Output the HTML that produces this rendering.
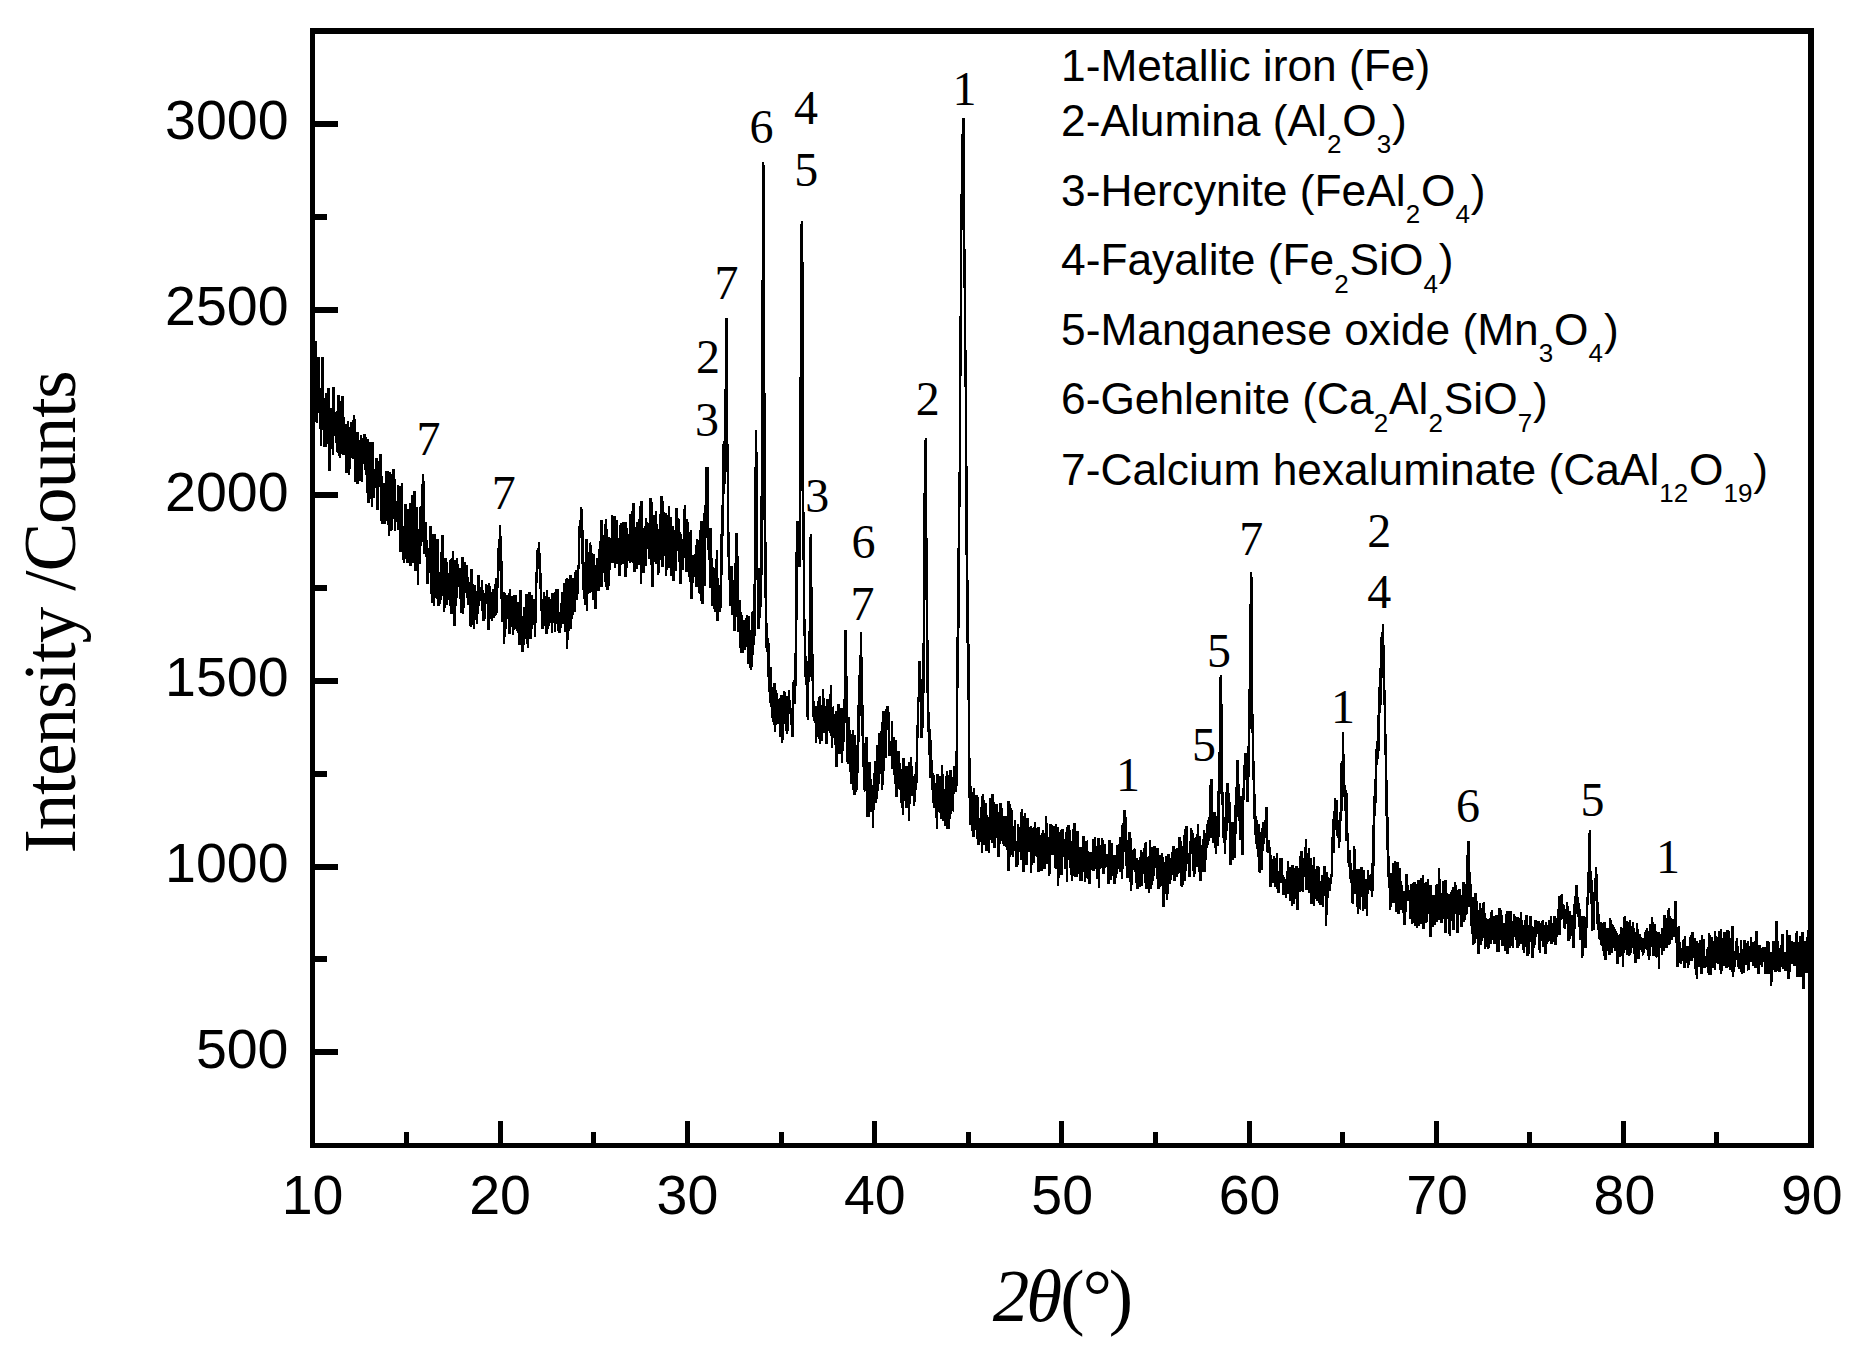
<!DOCTYPE html>
<html><head><meta charset="utf-8"><title>XRD pattern</title>
<style>
html,body{margin:0;padding:0;background:#fff;}
body{width:1856px;height:1364px;overflow:hidden;}
svg{display:block;}
.tk{font-family:"Liberation Sans",Arial,sans-serif;font-size:55.5px;fill:#000;}
.lg{font-family:"Liberation Sans",Arial,sans-serif;font-size:44.3px;fill:#000;}
.sb{font-size:26px;}
.pk{font-family:"Liberation Serif","Times New Roman",serif;font-size:48px;fill:#000;text-anchor:middle;}
.ax{font-family:"Liberation Serif","Times New Roman",serif;font-size:73px;fill:#000;}
</style></head><body>
<svg width="1856" height="1364" viewBox="0 0 1856 1364">
<rect x="0" y="0" width="1856" height="1364" fill="#fff"/>
<g shape-rendering="crispEdges"><polyline fill="none" stroke="#000" stroke-width="2.5" stroke-linejoin="miter" stroke-miterlimit="2" points="312.3,388.6 312.7,341.4 313.0,363.0 313.4,391.6 313.8,368.4 314.2,346.1 314.5,394.8 314.9,357.6 315.3,341.1 315.7,371.6 316.0,407.4 316.4,410.8 316.8,423.1 317.2,401.1 317.5,387.7 317.9,412.6 318.3,356.9 318.7,395.8 319.0,403.6 319.4,388.2 319.8,402.3 320.2,428.5 320.5,395.3 320.9,445.8 321.3,428.6 321.7,429.0 322.0,410.6 322.4,356.6 322.8,404.8 323.2,409.4 323.5,404.3 323.9,438.1 324.3,446.5 324.7,424.7 325.0,398.4 325.4,431.6 325.8,428.0 326.2,447.3 326.5,392.9 326.9,426.1 327.3,426.5 327.7,394.6 328.0,444.2 328.4,388.2 328.8,402.9 329.2,413.9 329.5,470.7 329.9,430.9 330.3,412.1 330.7,408.0 331.0,437.3 331.4,414.3 331.8,441.4 332.2,432.0 332.5,437.7 332.9,454.5 333.3,386.9 333.7,422.9 334.0,394.3 334.4,434.5 334.8,427.7 335.2,411.8 335.5,422.9 335.9,442.5 336.3,428.6 336.7,443.2 337.0,429.0 337.4,451.5 337.8,406.9 338.2,452.5 338.5,395.5 338.9,456.3 339.3,411.0 339.7,410.2 340.0,458.1 340.4,417.5 340.8,416.4 341.2,401.1 341.5,418.8 341.9,443.4 342.3,454.0 342.7,396.2 343.0,441.7 343.4,454.7 343.8,417.3 344.2,425.2 344.5,424.6 344.9,434.5 345.3,452.7 345.7,442.2 346.0,472.6 346.4,424.0 346.8,442.5 347.2,450.2 347.5,450.9 347.9,420.9 348.3,472.8 348.7,444.0 349.0,474.6 349.4,466.1 349.8,426.7 350.2,432.9 350.5,456.5 350.9,447.2 351.3,422.4 351.7,453.6 352.0,456.0 352.4,449.9 352.8,459.2 353.2,442.3 353.5,428.6 353.9,415.3 354.3,459.1 354.7,418.8 355.0,481.5 355.4,445.3 355.8,441.6 356.2,479.0 356.5,455.6 356.9,432.4 357.3,483.7 357.7,448.4 358.0,431.9 358.4,453.3 358.8,440.2 359.1,470.8 359.5,480.7 359.9,475.7 360.3,473.6 360.6,464.9 361.0,435.3 361.4,459.9 361.8,450.4 362.1,481.9 362.5,437.6 362.9,463.8 363.3,445.5 363.6,462.1 364.0,447.7 364.4,434.0 364.8,446.2 365.1,456.5 365.5,470.2 365.9,437.5 366.3,474.5 366.6,448.1 367.0,493.0 367.4,466.0 367.8,466.4 368.1,439.4 368.5,503.0 368.9,444.3 369.3,442.4 369.6,449.3 370.0,469.0 370.4,454.5 370.8,481.9 371.1,489.6 371.5,486.6 371.9,506.6 372.3,485.1 372.6,442.1 373.0,476.0 373.4,498.2 373.8,479.2 374.1,493.0 374.5,480.1 374.9,473.6 375.3,483.5 375.6,468.6 376.0,475.4 376.4,458.4 376.8,470.7 377.1,497.5 377.5,509.8 377.9,500.3 378.3,466.0 378.6,465.0 379.0,467.4 379.4,487.4 379.8,458.1 380.1,467.5 380.5,454.0 380.9,499.8 381.3,476.1 381.6,519.8 382.0,523.7 382.4,513.2 382.8,509.1 383.1,492.3 383.5,498.2 383.9,483.5 384.3,524.1 384.6,484.6 385.0,507.7 385.4,495.1 385.8,521.1 386.1,502.0 386.5,470.9 386.9,482.7 387.3,470.7 387.6,497.5 388.0,492.6 388.4,525.4 388.8,491.8 389.1,535.7 389.5,476.7 389.9,472.6 390.3,474.2 390.6,531.4 391.0,526.7 391.4,500.1 391.8,529.9 392.1,486.3 392.5,485.1 392.9,512.3 393.3,469.5 393.6,487.4 394.0,518.5 394.4,506.7 394.8,478.8 395.1,531.1 395.5,507.8 395.9,503.0 396.3,502.2 396.6,522.3 397.0,520.5 397.4,505.2 397.8,500.9 398.1,485.0 398.5,530.3 398.9,497.8 399.3,497.2 399.6,485.9 400.0,529.5 400.4,552.2 400.8,508.7 401.1,551.3 401.5,512.9 401.9,483.5 402.3,534.2 402.6,526.7 403.0,545.2 403.4,530.5 403.8,562.9 404.1,536.4 404.5,548.2 404.9,514.9 405.3,504.3 405.6,526.9 406.0,539.6 406.4,536.9 406.7,558.5 407.1,523.9 407.5,562.9 407.9,533.7 408.2,542.8 408.6,509.0 409.0,533.7 409.4,544.3 409.7,550.9 410.1,503.5 410.5,565.6 410.9,549.8 411.2,555.4 411.6,550.8 412.0,495.3 412.4,553.7 412.7,562.5 413.1,511.4 413.5,512.3 413.9,551.1 414.2,540.1 414.6,491.1 415.0,557.2 415.4,517.6 415.7,571.4 416.1,525.8 416.5,522.9 416.9,506.7 417.2,540.1 417.6,555.7 418.0,584.6 418.4,535.5 418.7,528.7 419.1,555.3 419.5,563.8 419.9,539.0 420.2,509.1 420.6,507.3 421.0,545.8 421.4,540.0 421.7,506.1 422.1,524.2 422.5,491.7 422.9,479.1 423.2,473.6 423.6,513.5 424.0,519.5 424.4,553.8 424.7,532.0 425.1,548.1 425.5,521.9 425.9,532.5 426.2,537.8 426.6,551.4 427.0,566.1 427.4,557.8 427.7,584.4 428.1,556.8 428.5,559.3 428.9,553.3 429.2,560.1 429.6,547.8 430.0,573.3 430.4,545.5 430.7,526.1 431.1,571.4 431.5,593.8 431.9,575.7 432.2,539.3 432.6,603.2 433.0,568.5 433.4,538.8 433.7,534.4 434.1,606.2 434.5,583.8 434.9,534.4 435.2,597.9 435.6,581.3 436.0,579.2 436.4,583.6 436.7,568.2 437.1,598.9 437.5,539.1 437.9,600.3 438.2,566.5 438.6,606.3 439.0,572.6 439.4,603.6 439.7,576.7 440.1,591.0 440.5,572.4 440.9,581.3 441.2,600.2 441.6,554.0 442.0,549.9 442.4,535.1 442.7,595.7 443.1,581.9 443.5,580.5 443.9,604.3 444.2,611.7 444.6,586.7 445.0,596.1 445.4,592.3 445.7,558.4 446.1,579.0 446.5,586.1 446.9,561.6 447.2,605.2 447.6,578.2 448.0,591.7 448.4,573.1 448.7,575.1 449.1,584.4 449.5,591.2 449.9,580.1 450.2,560.3 450.6,605.8 451.0,599.4 451.4,614.0 451.7,559.0 452.1,566.2 452.5,608.4 452.8,550.7 453.2,605.1 453.6,580.2 454.0,594.6 454.3,560.3 454.7,626.4 455.1,600.4 455.5,584.5 455.8,606.2 456.2,600.2 456.6,590.4 457.0,558.1 457.3,570.8 457.7,564.2 458.1,566.5 458.5,577.0 458.8,571.1 459.2,575.7 459.6,579.3 460.0,597.5 460.3,599.3 460.7,568.1 461.1,612.7 461.5,577.7 461.8,585.8 462.2,601.7 462.6,557.4 463.0,614.0 463.3,592.6 463.7,608.4 464.1,570.3 464.5,589.5 464.8,561.8 465.2,592.5 465.6,571.4 466.0,580.0 466.3,593.4 466.7,564.9 467.1,596.9 467.5,596.8 467.8,588.1 468.2,576.8 468.6,604.8 469.0,583.5 469.3,599.1 469.7,589.8 470.1,594.4 470.5,625.6 470.8,596.4 471.2,626.9 471.6,568.8 472.0,595.1 472.3,605.9 472.7,583.9 473.1,601.7 473.5,596.5 473.8,628.6 474.2,601.1 474.6,584.8 475.0,587.0 475.3,611.8 475.7,591.3 476.1,593.9 476.5,597.0 476.8,624.0 477.2,595.3 477.6,608.2 478.0,614.2 478.3,575.5 478.7,606.2 479.1,600.3 479.5,587.0 479.8,591.9 480.2,596.4 480.6,595.1 481.0,600.5 481.3,595.1 481.7,593.6 482.1,579.9 482.5,602.6 482.8,612.6 483.2,598.3 483.6,620.5 484.0,597.4 484.3,618.8 484.7,611.3 485.1,592.9 485.5,601.3 485.8,603.6 486.2,583.7 486.6,601.4 487.0,584.7 487.3,594.6 487.7,599.3 488.1,598.3 488.5,630.1 488.8,599.5 489.2,583.4 489.6,600.1 490.0,597.6 490.3,592.0 490.7,606.8 491.1,602.6 491.5,617.6 491.8,619.7 492.2,620.2 492.6,606.5 493.0,606.0 493.3,589.3 493.7,613.5 494.1,617.5 494.5,612.5 494.8,599.4 495.2,584.5 495.6,602.2 496.0,614.5 496.3,612.7 496.7,577.8 497.1,581.8 497.5,581.1 497.8,587.8 498.2,548.3 498.6,558.9 499.0,539.1 499.3,543.5 499.7,542.6 500.1,525.5 500.4,545.3 500.8,574.5 501.2,556.4 501.6,585.5 501.9,609.7 502.3,604.5 502.7,622.3 503.1,607.1 503.4,593.0 503.8,592.1 504.2,644.0 504.6,600.7 504.9,592.8 505.3,611.1 505.7,629.2 506.1,604.7 506.4,611.4 506.8,594.8 507.2,618.7 507.6,612.8 507.9,609.4 508.3,617.7 508.7,603.2 509.1,593.2 509.4,634.0 509.8,589.3 510.2,626.0 510.6,619.2 510.9,623.1 511.3,620.7 511.7,613.6 512.1,601.4 512.4,596.4 512.8,631.1 513.2,634.7 513.6,607.4 513.9,608.1 514.3,619.3 514.7,594.7 515.1,615.6 515.4,625.1 515.8,595.3 516.2,609.6 516.6,627.5 516.9,630.7 517.3,626.5 517.7,624.8 518.1,632.8 518.4,602.4 518.8,605.0 519.2,629.2 519.6,645.4 519.9,633.2 520.3,636.4 520.7,590.1 521.1,642.1 521.4,632.8 521.8,634.7 522.2,623.7 522.6,652.4 522.9,616.4 523.3,644.6 523.7,638.2 524.1,607.2 524.4,639.1 524.8,611.9 525.2,616.7 525.6,621.7 525.9,603.3 526.3,635.7 526.7,593.9 527.1,614.6 527.4,609.7 527.8,648.1 528.2,621.5 528.6,615.9 528.9,610.8 529.3,630.2 529.7,592.1 530.1,619.4 530.4,639.4 530.8,615.6 531.2,636.1 531.6,594.6 531.9,599.9 532.3,606.9 532.7,622.0 533.1,606.5 533.4,603.9 533.8,620.4 534.2,599.1 534.6,611.0 534.9,636.9 535.3,618.2 535.7,622.5 536.1,576.1 536.4,583.2 536.8,571.1 537.2,555.5 537.6,550.0 537.9,569.1 538.3,548.5 538.7,555.0 539.1,542.1 539.4,561.8 539.8,567.6 540.2,570.5 540.6,588.5 540.9,582.7 541.3,600.5 541.7,611.4 542.1,611.0 542.4,628.8 542.8,604.1 543.2,623.8 543.6,626.3 543.9,592.5 544.3,603.3 544.7,613.5 545.1,624.1 545.4,596.2 545.8,625.3 546.2,619.7 546.5,633.6 546.9,590.5 547.3,626.6 547.7,615.9 548.0,629.4 548.4,622.2 548.8,597.1 549.2,625.7 549.5,615.9 549.9,603.6 550.3,599.1 550.7,605.8 551.0,606.9 551.4,606.7 551.8,603.7 552.2,632.6 552.5,593.1 552.9,602.6 553.3,596.4 553.7,618.7 554.0,600.3 554.4,593.5 554.8,601.6 555.2,632.4 555.5,597.9 555.9,588.7 556.3,617.8 556.7,591.7 557.0,617.1 557.4,592.1 557.8,589.2 558.2,606.0 558.5,631.2 558.9,620.8 559.3,632.9 559.7,620.8 560.0,615.3 560.4,628.4 560.8,615.2 561.2,615.9 561.5,623.8 561.9,591.9 562.3,593.7 562.7,612.8 563.0,596.8 563.4,607.2 563.8,612.3 564.2,623.8 564.5,582.6 564.9,613.6 565.3,601.8 565.7,632.1 566.0,601.8 566.4,588.4 566.8,578.4 567.2,649.1 567.5,611.6 567.9,625.2 568.3,578.6 568.7,630.8 569.0,620.0 569.4,595.0 569.8,597.1 570.2,608.6 570.5,575.1 570.9,629.0 571.3,617.7 571.7,604.7 572.0,616.5 572.4,614.6 572.8,599.4 573.2,577.6 573.5,590.8 573.9,589.3 574.3,612.2 574.7,594.7 575.0,587.9 575.4,585.6 575.8,570.3 576.2,591.4 576.5,594.2 576.9,600.2 577.3,592.7 577.7,592.8 578.0,576.6 578.4,565.3 578.8,568.3 579.2,540.0 579.5,532.3 579.9,522.5 580.3,536.3 580.7,523.8 581.0,507.1 581.4,509.7 581.8,532.9 582.2,564.0 582.5,536.6 582.9,530.0 583.3,589.5 583.7,581.6 584.0,598.5 584.4,565.9 584.8,562.0 585.2,604.9 585.5,570.8 585.9,585.6 586.3,582.1 586.7,539.5 587.0,611.3 587.4,584.7 587.8,577.9 588.2,564.7 588.5,552.0 588.9,579.4 589.3,592.1 589.7,591.8 590.0,542.6 590.4,545.9 590.8,557.1 591.2,545.3 591.5,582.6 591.9,562.9 592.3,591.9 592.7,562.8 593.0,599.9 593.4,569.6 593.8,571.3 594.1,554.5 594.5,580.4 594.9,597.7 595.3,587.9 595.6,609.3 596.0,599.2 596.4,586.7 596.8,563.5 597.1,572.4 597.5,558.3 597.9,584.7 598.3,591.0 598.6,589.1 599.0,548.6 599.4,565.4 599.8,557.2 600.1,551.8 600.5,571.5 600.9,525.9 601.3,519.9 601.6,586.6 602.0,550.5 602.4,573.3 602.8,570.7 603.1,570.9 603.5,547.1 603.9,535.3 604.3,558.0 604.6,541.2 605.0,560.0 605.4,581.7 605.8,519.0 606.1,538.4 606.5,587.0 606.9,529.3 607.3,589.7 607.6,584.7 608.0,575.0 608.4,539.4 608.8,586.0 609.1,536.8 609.5,540.9 609.9,569.5 610.3,549.2 610.6,562.7 611.0,539.6 611.4,553.9 611.8,556.3 612.1,515.3 612.5,563.4 612.9,523.5 613.3,556.1 613.6,543.9 614.0,531.3 614.4,516.5 614.8,568.2 615.1,557.0 615.5,535.4 615.9,533.2 616.3,548.0 616.6,519.8 617.0,562.5 617.4,563.4 617.8,538.0 618.1,544.3 618.5,559.5 618.9,554.5 619.3,568.0 619.6,576.4 620.0,566.7 620.4,525.4 620.8,552.1 621.1,543.0 621.5,523.1 621.9,563.3 622.3,564.2 622.6,553.1 623.0,554.1 623.4,521.7 623.8,545.1 624.1,558.9 624.5,538.0 624.9,561.9 625.3,576.8 625.6,541.1 626.0,521.6 626.4,567.9 626.8,527.6 627.1,566.6 627.5,549.5 627.9,534.0 628.3,552.4 628.6,540.8 629.0,539.5 629.4,539.0 629.8,563.4 630.1,514.2 630.5,557.2 630.9,522.8 631.3,560.9 631.6,561.0 632.0,557.7 632.4,510.9 632.8,533.0 633.1,550.0 633.5,503.3 633.9,510.5 634.3,572.1 634.6,539.7 635.0,537.9 635.4,527.2 635.8,539.8 636.1,562.1 636.5,556.0 636.9,568.8 637.3,522.3 637.6,559.3 638.0,544.5 638.4,542.6 638.8,553.3 639.1,564.5 639.5,519.5 639.9,535.0 640.2,548.2 640.6,506.2 641.0,583.9 641.4,554.0 641.7,500.6 642.1,524.9 642.5,531.3 642.9,542.6 643.2,535.6 643.6,573.3 644.0,541.4 644.4,555.1 644.7,552.8 645.1,526.3 645.5,559.3 645.9,565.9 646.2,518.4 646.6,541.0 647.0,546.5 647.4,546.0 647.7,523.3 648.1,549.0 648.5,538.2 648.9,528.5 649.2,558.5 649.6,551.8 650.0,540.6 650.4,497.8 650.7,525.3 651.1,523.5 651.5,539.8 651.9,578.2 652.2,502.3 652.6,587.0 653.0,568.4 653.4,523.1 653.7,523.1 654.1,514.7 654.5,542.4 654.9,562.2 655.2,547.2 655.6,519.7 656.0,511.5 656.4,564.1 656.7,523.6 657.1,539.0 657.5,545.3 657.9,538.7 658.2,575.1 658.6,536.4 659.0,572.7 659.4,529.5 659.7,541.4 660.1,524.7 660.5,513.9 660.9,556.5 661.2,560.0 661.6,496.5 662.0,532.5 662.4,553.1 662.7,566.6 663.1,501.0 663.5,527.7 663.9,555.7 664.2,517.5 664.6,541.7 665.0,541.6 665.4,513.2 665.7,545.2 666.1,576.3 666.5,561.9 666.9,540.7 667.2,525.8 667.6,523.1 668.0,515.3 668.4,540.6 668.7,546.3 669.1,505.9 669.5,567.7 669.9,538.9 670.2,547.6 670.6,545.7 671.0,516.6 671.4,539.2 671.7,575.5 672.1,537.4 672.5,525.9 672.9,559.6 673.2,553.5 673.6,581.3 674.0,542.8 674.4,543.2 674.7,547.7 675.1,529.6 675.5,536.8 675.9,570.8 676.2,508.2 676.6,508.7 677.0,545.8 677.4,549.6 677.7,518.5 678.1,550.9 678.5,519.1 678.9,562.3 679.2,527.8 679.6,548.7 680.0,532.4 680.4,548.8 680.7,583.7 681.1,534.5 681.5,546.4 681.9,553.1 682.2,548.1 682.6,569.5 683.0,564.9 683.4,540.5 683.7,557.9 684.1,544.5 684.5,517.4 684.9,504.6 685.2,522.6 685.6,551.0 686.0,568.3 686.4,525.7 686.7,572.1 687.1,519.4 687.5,524.8 687.8,548.3 688.2,544.1 688.6,569.0 689.0,552.4 689.3,565.3 689.7,576.5 690.1,582.2 690.5,541.7 690.8,530.0 691.2,588.2 691.6,599.3 692.0,560.2 692.3,583.0 692.7,577.9 693.1,554.9 693.5,563.7 693.8,563.6 694.2,577.3 694.6,557.4 695.0,564.8 695.3,573.3 695.7,553.8 696.1,554.2 696.5,586.9 696.8,539.4 697.2,575.1 697.6,544.5 698.0,565.8 698.3,572.4 698.7,539.9 699.1,573.7 699.5,593.3 699.8,592.8 700.2,529.6 700.6,585.7 701.0,585.0 701.3,521.5 701.7,600.0 702.1,604.1 702.5,603.2 702.8,573.5 703.2,563.2 703.6,558.7 704.0,573.9 704.3,586.3 704.7,512.6 705.1,518.5 705.5,504.9 705.8,538.0 706.2,517.4 706.6,467.1 707.0,489.5 707.3,467.4 707.7,496.6 708.1,523.4 708.5,549.5 708.8,542.9 709.2,545.6 709.6,542.2 710.0,588.4 710.3,527.7 710.7,550.9 711.1,581.2 711.5,578.7 711.8,557.7 712.2,606.1 712.6,566.6 713.0,573.6 713.3,579.6 713.7,572.8 714.1,589.6 714.5,587.7 714.8,611.8 715.2,568.0 715.6,608.8 716.0,572.7 716.3,605.7 716.7,561.0 717.1,550.2 717.5,620.5 717.8,577.9 718.2,586.3 718.6,611.3 719.0,597.0 719.3,611.9 719.7,584.6 720.1,608.8 720.5,602.8 720.8,607.5 721.2,580.3 721.6,546.9 722.0,516.5 722.3,536.0 722.7,505.1 723.1,516.1 723.5,466.3 723.8,441.1 724.2,492.6 724.6,442.8 725.0,444.4 725.3,451.6 725.7,389.5 726.1,398.8 726.5,318.1 726.8,395.5 727.2,455.7 727.6,444.3 728.0,513.6 728.3,534.3 728.7,552.2 729.1,579.5 729.5,570.9 729.8,570.1 730.2,568.5 730.6,606.1 731.0,590.4 731.3,565.6 731.7,595.8 732.1,598.1 732.5,615.1 732.8,580.5 733.2,595.4 733.6,593.5 733.9,584.2 734.3,581.1 734.7,631.0 735.1,563.4 735.4,595.5 735.8,580.5 736.2,554.8 736.6,533.1 736.9,549.1 737.3,557.3 737.7,616.8 738.1,613.5 738.4,632.0 738.8,605.3 739.2,626.2 739.6,622.1 739.9,600.1 740.3,613.4 740.7,647.2 741.1,652.9 741.4,623.9 741.8,615.3 742.2,627.3 742.6,653.0 742.9,650.1 743.3,633.6 743.7,627.5 744.1,626.1 744.4,620.0 744.8,649.8 745.2,645.7 745.6,629.8 745.9,618.3 746.3,627.7 746.7,627.7 747.1,614.9 747.4,647.2 747.8,623.5 748.2,640.2 748.6,663.6 748.9,616.5 749.3,641.6 749.7,630.5 750.1,640.4 750.4,642.7 750.8,670.3 751.2,636.1 751.6,666.5 751.9,611.6 752.3,623.8 752.7,647.8 753.1,654.7 753.4,618.5 753.8,609.6 754.2,645.1 754.6,596.3 754.9,574.4 755.3,545.3 755.7,474.8 756.1,430.1 756.4,470.2 756.8,535.9 757.2,566.5 757.6,579.5 757.9,574.5 758.3,629.0 758.7,604.6 759.1,593.0 759.4,610.6 759.8,618.1 760.2,609.0 760.6,597.0 760.9,544.8 761.3,574.8 761.7,504.3 762.1,459.9 762.4,336.0 762.8,275.0 763.2,162.1 763.6,179.7 763.9,272.1 764.3,408.0 764.7,518.7 765.1,526.4 765.4,556.0 765.8,602.4 766.2,648.2 766.6,631.1 766.9,622.7 767.3,639.9 767.7,650.7 768.1,658.7 768.4,642.7 768.8,681.0 769.2,686.9 769.6,681.7 769.9,700.1 770.3,702.5 770.7,666.6 771.1,687.9 771.4,707.1 771.8,686.7 772.2,718.2 772.6,689.3 772.9,689.0 773.3,715.9 773.7,721.5 774.1,720.8 774.4,683.5 774.8,728.8 775.2,732.2 775.6,690.1 775.9,705.1 776.3,705.5 776.7,693.4 777.1,723.9 777.4,723.2 777.8,711.7 778.2,717.3 778.6,699.6 778.9,703.9 779.3,705.9 779.7,699.5 780.1,737.3 780.4,721.4 780.8,695.2 781.2,733.6 781.5,712.8 781.9,742.6 782.3,697.1 782.7,740.1 783.0,701.7 783.4,700.7 783.8,694.9 784.2,691.3 784.5,695.5 784.9,710.8 785.3,724.4 785.7,696.9 786.0,697.2 786.4,730.7 786.8,703.2 787.2,734.1 787.5,721.0 787.9,707.4 788.3,698.8 788.7,698.0 789.0,690.3 789.4,705.2 789.8,702.8 790.2,714.2 790.5,713.6 790.9,708.1 791.3,711.1 791.7,725.2 792.0,716.4 792.4,736.6 792.8,707.1 793.2,705.9 793.5,685.5 793.9,680.3 794.3,704.3 794.7,687.4 795.0,673.1 795.4,686.3 795.8,650.5 796.2,630.6 796.5,583.5 796.9,537.3 797.3,565.4 797.7,521.1 798.0,547.1 798.4,545.7 798.8,548.5 799.2,544.4 799.5,567.0 799.9,528.7 800.3,487.1 800.7,400.9 801.0,299.9 801.4,248.6 801.8,221.1 802.2,246.4 802.5,321.3 802.9,423.3 803.3,521.9 803.7,545.4 804.0,619.7 804.4,619.4 804.8,637.8 805.2,654.1 805.5,662.0 805.9,684.7 806.3,660.7 806.7,676.2 807.0,694.9 807.4,689.8 807.8,720.2 808.2,681.0 808.5,681.5 808.9,651.8 809.3,631.1 809.7,676.8 810.0,583.8 810.4,562.0 810.8,534.1 811.2,574.9 811.5,634.1 811.9,662.3 812.3,681.0 812.7,653.6 813.0,692.1 813.4,706.0 813.8,718.1 814.2,701.4 814.5,720.6 814.9,706.5 815.3,722.8 815.7,706.4 816.0,743.3 816.4,726.1 816.8,737.0 817.2,725.8 817.5,732.9 817.9,706.1 818.3,700.7 818.7,726.2 819.0,738.0 819.4,697.4 819.8,744.1 820.2,696.2 820.5,734.7 820.9,735.8 821.3,720.3 821.7,740.6 822.0,735.5 822.4,730.0 822.8,703.7 823.2,688.8 823.5,732.5 823.9,707.2 824.3,724.7 824.7,729.2 825.0,726.8 825.4,729.5 825.8,707.3 826.2,707.5 826.5,744.3 826.9,731.5 827.3,699.3 827.6,702.3 828.0,719.6 828.4,707.9 828.8,704.7 829.1,714.3 829.5,727.1 829.9,733.3 830.3,715.8 830.6,700.1 831.0,685.1 831.4,736.0 831.8,708.8 832.1,747.8 832.5,707.0 832.9,707.5 833.3,714.4 833.6,731.9 834.0,715.3 834.4,720.1 834.8,739.3 835.1,745.1 835.5,741.5 835.9,710.9 836.3,740.1 836.6,766.9 837.0,738.6 837.4,749.3 837.8,724.3 838.1,722.1 838.5,704.1 838.9,712.0 839.3,735.8 839.6,753.9 840.0,710.7 840.4,732.1 840.8,729.9 841.1,712.4 841.5,707.8 841.9,762.9 842.3,738.4 842.6,730.3 843.0,750.7 843.4,738.1 843.8,741.8 844.1,700.7 844.5,717.6 844.9,689.0 845.3,636.3 845.6,630.1 846.0,663.3 846.4,683.0 846.8,727.4 847.1,720.9 847.5,762.3 847.9,751.7 848.3,717.2 848.6,764.1 849.0,737.1 849.4,729.8 849.8,757.4 850.1,745.1 850.5,771.8 850.9,767.9 851.3,765.0 851.6,783.6 852.0,767.7 852.4,772.5 852.8,730.0 853.1,790.0 853.5,777.8 853.9,746.4 854.3,795.3 854.6,747.1 855.0,735.1 855.4,750.1 855.8,776.0 856.1,792.4 856.5,786.1 856.9,788.5 857.3,752.0 857.6,772.9 858.0,739.7 858.4,741.8 858.8,701.2 859.1,703.2 859.5,716.2 859.9,655.2 860.3,683.4 860.6,679.6 861.0,632.1 861.4,669.6 861.8,696.8 862.1,735.6 862.5,704.9 862.9,742.2 863.3,767.1 863.6,742.6 864.0,790.1 864.4,759.0 864.8,789.2 865.1,791.4 865.5,780.6 865.9,764.1 866.3,737.1 866.6,769.0 867.0,816.6 867.4,800.1 867.8,798.1 868.1,812.8 868.5,817.3 868.9,803.3 869.3,762.0 869.6,798.3 870.0,768.6 870.4,783.8 870.8,812.0 871.1,807.7 871.5,785.1 871.9,795.9 872.3,785.6 872.6,791.3 873.0,828.0 873.4,802.1 873.8,807.6 874.1,790.0 874.5,799.6 874.9,761.0 875.2,802.4 875.6,801.4 876.0,794.1 876.4,799.3 876.7,769.6 877.1,745.0 877.5,772.4 877.9,791.1 878.2,788.5 878.6,760.5 879.0,732.6 879.4,761.6 879.7,767.4 880.1,773.0 880.5,770.4 880.9,730.9 881.2,774.4 881.6,759.8 882.0,790.3 882.4,782.8 882.7,721.6 883.1,731.0 883.5,710.6 883.9,771.2 884.2,734.4 884.6,727.8 885.0,724.7 885.4,758.4 885.7,734.2 886.1,708.9 886.5,716.5 886.9,717.9 887.2,729.6 887.6,706.1 888.0,730.4 888.4,712.1 888.7,725.4 889.1,744.2 889.5,755.6 889.9,745.6 890.2,740.7 890.6,749.4 891.0,749.9 891.4,746.1 891.7,750.4 892.1,721.3 892.5,768.7 892.9,760.7 893.2,736.7 893.6,738.7 894.0,773.2 894.4,774.3 894.7,752.4 895.1,784.3 895.5,740.2 895.9,758.0 896.2,774.5 896.6,797.3 897.0,756.2 897.4,781.0 897.7,768.6 898.1,763.4 898.5,751.1 898.9,764.6 899.2,789.4 899.6,763.3 900.0,782.4 900.4,789.7 900.7,778.0 901.1,803.2 901.5,772.9 901.9,769.4 902.2,806.2 902.6,803.3 903.0,814.5 903.4,795.1 903.7,758.2 904.1,781.5 904.5,771.9 904.9,776.4 905.2,776.4 905.6,786.6 906.0,803.7 906.4,807.5 906.7,765.9 907.1,803.5 907.5,803.2 907.9,780.1 908.2,782.9 908.6,770.1 909.0,820.8 909.4,794.6 909.7,761.9 910.1,767.6 910.5,775.1 910.9,757.2 911.2,792.8 911.6,769.5 912.0,766.5 912.4,780.9 912.7,796.2 913.1,792.3 913.5,779.3 913.9,784.8 914.2,806.2 914.6,783.5 915.0,777.2 915.4,790.3 915.7,774.3 916.1,778.1 916.5,782.6 916.9,751.6 917.2,733.7 917.6,738.0 918.0,707.1 918.4,699.8 918.7,700.6 919.1,681.2 919.5,661.1 919.9,666.4 920.2,675.1 920.6,695.3 921.0,697.7 921.3,738.2 921.7,707.0 922.1,727.0 922.5,726.7 922.8,711.3 923.2,696.1 923.6,680.5 924.0,589.7 924.3,534.4 924.7,493.5 925.1,491.8 925.5,450.4 925.8,438.1 926.2,527.6 926.6,590.0 927.0,615.0 927.3,643.6 927.7,690.3 928.1,706.1 928.5,720.7 928.8,734.0 929.2,727.7 929.6,738.6 930.0,778.2 930.3,740.5 930.7,745.1 931.1,763.4 931.5,778.2 931.8,760.5 932.2,771.7 932.6,782.6 933.0,802.7 933.3,774.7 933.7,784.3 934.1,799.1 934.5,807.6 934.8,792.6 935.2,783.1 935.6,800.7 936.0,818.2 936.3,803.5 936.7,795.3 937.1,828.7 937.5,774.2 937.8,807.2 938.2,792.3 938.6,796.0 939.0,812.4 939.3,776.8 939.7,776.0 940.1,812.9 940.5,794.4 940.8,797.9 941.2,818.9 941.6,805.0 942.0,764.6 942.3,775.6 942.7,785.8 943.1,820.7 943.5,816.3 943.8,804.9 944.2,789.4 944.6,805.5 945.0,805.4 945.3,791.1 945.7,825.7 946.1,805.4 946.5,812.8 946.8,770.9 947.2,828.7 947.6,823.2 948.0,802.7 948.3,798.9 948.7,829.4 949.1,775.3 949.5,819.3 949.8,781.5 950.2,817.5 950.6,770.4 951.0,814.1 951.3,794.8 951.7,777.2 952.1,809.9 952.5,810.1 952.8,791.9 953.2,795.4 953.6,785.4 954.0,765.7 954.3,784.8 954.7,779.3 955.1,782.7 955.5,779.5 955.8,778.3 956.2,791.6 956.6,763.4 957.0,733.5 957.3,682.1 957.7,637.0 958.1,645.1 958.5,603.9 958.8,540.8 959.2,511.8 959.6,489.6 960.0,446.6 960.3,368.3 960.7,332.4 961.1,243.6 961.5,211.1 961.8,192.3 962.2,147.3 962.6,134.2 963.0,140.9 963.3,118.1 963.7,220.5 964.1,237.0 964.5,267.1 964.8,291.4 965.2,360.8 965.6,350.0 966.0,443.8 966.3,469.8 966.7,554.9 967.1,539.9 967.5,642.2 967.8,643.1 968.2,636.8 968.6,680.9 968.9,715.3 969.3,762.9 969.7,792.6 970.1,824.9 970.4,793.8 970.8,822.5 971.2,786.3 971.6,822.5 971.9,815.6 972.3,822.1 972.7,831.1 973.1,810.7 973.4,836.5 973.8,788.3 974.2,806.9 974.6,820.5 974.9,802.6 975.3,811.9 975.7,830.4 976.1,802.8 976.4,795.2 976.8,802.6 977.2,838.9 977.6,797.3 977.9,813.6 978.3,835.5 978.7,845.1 979.1,819.0 979.4,826.7 979.8,833.7 980.2,817.6 980.6,832.6 980.9,807.1 981.3,814.3 981.7,839.6 982.1,853.0 982.4,818.8 982.8,794.5 983.2,841.3 983.6,817.6 983.9,799.8 984.3,845.1 984.7,834.0 985.1,817.3 985.4,839.0 985.8,803.5 986.2,817.3 986.6,850.5 986.9,815.2 987.3,827.3 987.7,817.5 988.1,832.6 988.4,832.9 988.8,852.8 989.2,834.2 989.6,838.0 989.9,802.3 990.3,797.7 990.7,833.7 991.1,814.1 991.4,818.4 991.8,843.2 992.2,824.7 992.6,794.0 992.9,832.6 993.3,813.0 993.7,802.2 994.1,847.8 994.4,807.2 994.8,848.3 995.2,816.8 995.6,815.3 995.9,804.8 996.3,804.2 996.7,827.0 997.1,804.9 997.4,838.3 997.8,837.2 998.2,850.5 998.6,856.9 998.9,840.9 999.3,819.8 999.7,812.0 1000.1,843.8 1000.4,802.8 1000.8,839.1 1001.2,836.1 1001.6,807.8 1001.9,817.7 1002.3,817.7 1002.7,840.9 1003.1,837.9 1003.4,821.9 1003.8,846.4 1004.2,822.3 1004.6,830.9 1004.9,833.5 1005.3,816.4 1005.7,841.2 1006.1,821.3 1006.4,824.1 1006.8,849.6 1007.2,836.1 1007.6,843.8 1007.9,852.0 1008.3,871.3 1008.7,801.2 1009.1,827.8 1009.4,857.2 1009.8,804.3 1010.2,839.6 1010.6,844.4 1010.9,808.1 1011.3,834.3 1011.7,809.7 1012.1,817.2 1012.4,841.9 1012.8,857.1 1013.2,825.7 1013.6,838.7 1013.9,827.8 1014.3,833.0 1014.7,828.7 1015.0,820.5 1015.4,851.3 1015.8,842.7 1016.2,849.4 1016.5,867.2 1016.9,862.0 1017.3,858.6 1017.7,864.8 1018.0,824.3 1018.4,827.9 1018.8,828.6 1019.2,837.1 1019.5,843.5 1019.9,828.2 1020.3,851.8 1020.7,835.5 1021.0,860.4 1021.4,840.0 1021.8,808.6 1022.2,849.9 1022.5,831.4 1022.9,834.4 1023.3,872.0 1023.7,821.6 1024.0,844.3 1024.4,845.0 1024.8,813.5 1025.2,831.3 1025.5,837.7 1025.9,821.9 1026.3,864.9 1026.7,849.8 1027.0,829.1 1027.4,818.5 1027.8,832.2 1028.2,846.2 1028.5,848.8 1028.9,851.9 1029.3,832.9 1029.7,830.0 1030.0,828.4 1030.4,834.3 1030.8,826.0 1031.2,872.6 1031.5,842.8 1031.9,832.0 1032.3,828.7 1032.7,851.5 1033.0,829.3 1033.4,828.0 1033.8,862.7 1034.2,854.0 1034.5,835.4 1034.9,822.5 1035.3,853.1 1035.7,829.8 1036.0,854.8 1036.4,845.4 1036.8,857.2 1037.2,837.7 1037.5,828.7 1037.9,827.9 1038.3,871.9 1038.7,827.1 1039.0,844.5 1039.4,852.3 1039.8,835.1 1040.2,837.9 1040.5,849.6 1040.9,838.4 1041.3,870.9 1041.7,864.4 1042.0,832.6 1042.4,854.9 1042.8,842.6 1043.2,830.2 1043.5,860.2 1043.9,842.6 1044.3,838.8 1044.7,868.5 1045.0,859.4 1045.4,836.2 1045.8,832.7 1046.2,816.5 1046.5,846.3 1046.9,855.8 1047.3,851.4 1047.7,864.4 1048.0,837.1 1048.4,856.8 1048.8,855.5 1049.2,875.9 1049.5,866.2 1049.9,841.3 1050.3,823.8 1050.7,840.2 1051.0,837.3 1051.4,825.1 1051.8,845.9 1052.2,841.9 1052.5,855.3 1052.9,826.3 1053.3,850.1 1053.7,842.0 1054.0,833.1 1054.4,825.9 1054.8,856.8 1055.2,835.7 1055.5,868.2 1055.9,823.8 1056.3,868.9 1056.7,855.3 1057.0,864.0 1057.4,861.4 1057.8,827.1 1058.2,885.6 1058.5,852.1 1058.9,839.7 1059.3,843.0 1059.7,837.1 1060.0,853.4 1060.4,852.2 1060.8,830.5 1061.2,867.8 1061.5,874.4 1061.9,873.6 1062.3,855.1 1062.6,829.4 1063.0,841.8 1063.4,847.3 1063.8,844.7 1064.1,838.9 1064.5,843.3 1064.9,854.2 1065.3,868.9 1065.6,865.5 1066.0,835.0 1066.4,857.3 1066.8,829.2 1067.1,881.8 1067.5,827.5 1067.9,857.3 1068.3,824.7 1068.6,847.6 1069.0,856.6 1069.4,830.3 1069.8,845.4 1070.1,843.7 1070.5,867.8 1070.9,841.1 1071.3,853.8 1071.6,870.8 1072.0,880.5 1072.4,856.9 1072.8,863.4 1073.1,829.0 1073.5,868.1 1073.9,876.3 1074.3,823.0 1074.6,863.0 1075.0,853.6 1075.4,866.1 1075.8,877.4 1076.1,852.1 1076.5,838.3 1076.9,877.1 1077.3,847.0 1077.6,831.1 1078.0,842.6 1078.4,865.4 1078.8,874.0 1079.1,866.4 1079.5,873.8 1079.9,854.4 1080.3,880.5 1080.6,847.3 1081.0,849.9 1081.4,880.8 1081.8,872.7 1082.1,846.9 1082.5,852.3 1082.9,867.4 1083.3,836.0 1083.6,862.7 1084.0,853.6 1084.4,868.9 1084.8,872.0 1085.1,881.5 1085.5,873.0 1085.9,843.8 1086.3,867.6 1086.6,840.6 1087.0,844.9 1087.4,856.7 1087.8,869.6 1088.1,851.1 1088.5,879.4 1088.9,864.4 1089.3,863.0 1089.6,883.9 1090.0,879.3 1090.4,852.3 1090.8,854.8 1091.1,855.7 1091.5,870.3 1091.9,859.8 1092.3,851.9 1092.6,861.4 1093.0,839.3 1093.4,871.1 1093.8,842.7 1094.1,845.8 1094.5,865.1 1094.9,836.9 1095.3,855.1 1095.6,849.4 1096.0,868.5 1096.4,855.1 1096.8,846.0 1097.1,878.6 1097.5,854.0 1097.9,876.4 1098.3,851.6 1098.6,838.1 1099.0,887.7 1099.4,845.3 1099.8,850.8 1100.1,868.5 1100.5,856.9 1100.9,845.5 1101.3,867.6 1101.6,854.1 1102.0,838.0 1102.4,841.1 1102.8,865.0 1103.1,871.6 1103.5,873.9 1103.9,844.8 1104.3,854.2 1104.6,843.8 1105.0,867.1 1105.4,866.6 1105.8,855.3 1106.1,861.1 1106.5,859.3 1106.9,863.2 1107.3,861.1 1107.6,854.1 1108.0,870.9 1108.4,883.5 1108.7,881.4 1109.1,876.1 1109.5,839.9 1109.9,845.4 1110.2,843.2 1110.6,862.0 1111.0,880.1 1111.4,874.2 1111.7,842.6 1112.1,856.4 1112.5,859.2 1112.9,862.5 1113.2,869.0 1113.6,856.4 1114.0,856.4 1114.4,867.1 1114.7,883.8 1115.1,857.3 1115.5,873.0 1115.9,856.2 1116.2,878.4 1116.6,854.9 1117.0,874.3 1117.4,864.1 1117.7,844.6 1118.1,847.7 1118.5,848.1 1118.9,868.9 1119.2,847.3 1119.6,867.3 1120.0,842.0 1120.4,836.8 1120.7,872.2 1121.1,850.3 1121.5,859.1 1121.9,845.4 1122.2,879.3 1122.6,826.2 1123.0,823.0 1123.4,851.6 1123.7,848.6 1124.1,816.1 1124.5,810.1 1124.9,831.9 1125.2,814.4 1125.6,832.7 1126.0,823.7 1126.4,847.8 1126.7,864.0 1127.1,876.0 1127.5,878.3 1127.9,871.9 1128.2,860.1 1128.6,847.1 1129.0,853.3 1129.4,868.2 1129.7,831.9 1130.1,881.9 1130.5,838.6 1130.9,839.9 1131.2,890.9 1131.6,858.8 1132.0,862.5 1132.4,850.5 1132.7,853.5 1133.1,864.6 1133.5,860.4 1133.9,870.0 1134.2,848.6 1134.6,850.6 1135.0,872.4 1135.4,858.9 1135.7,864.3 1136.1,880.7 1136.5,883.1 1136.9,858.5 1137.2,872.0 1137.6,888.7 1138.0,881.0 1138.4,881.5 1138.7,859.7 1139.1,880.8 1139.5,872.0 1139.9,859.5 1140.2,887.1 1140.6,862.6 1141.0,849.9 1141.4,853.1 1141.7,858.6 1142.1,885.6 1142.5,854.7 1142.9,868.5 1143.2,874.1 1143.6,866.3 1144.0,848.3 1144.4,849.1 1144.7,872.0 1145.1,882.9 1145.5,845.4 1145.9,841.9 1146.2,869.8 1146.6,889.2 1147.0,870.2 1147.4,857.2 1147.7,883.2 1148.1,876.1 1148.5,874.8 1148.9,879.1 1149.2,892.7 1149.6,866.6 1150.0,840.2 1150.4,889.2 1150.7,850.0 1151.1,847.6 1151.5,878.4 1151.9,847.1 1152.2,884.9 1152.6,862.4 1153.0,865.9 1153.4,857.6 1153.7,876.3 1154.1,848.5 1154.5,846.1 1154.9,863.6 1155.2,862.1 1155.6,867.7 1156.0,855.3 1156.3,856.1 1156.7,853.7 1157.1,875.6 1157.5,848.0 1157.8,883.8 1158.2,867.4 1158.6,889.4 1159.0,884.8 1159.3,854.7 1159.7,887.2 1160.1,880.6 1160.5,885.8 1160.8,858.3 1161.2,886.3 1161.6,874.4 1162.0,853.3 1162.3,865.1 1162.7,860.2 1163.1,856.9 1163.5,906.8 1163.8,862.4 1164.2,869.1 1164.6,864.6 1165.0,867.7 1165.3,883.0 1165.7,894.1 1166.1,856.1 1166.5,867.6 1166.8,887.0 1167.2,899.8 1167.6,865.1 1168.0,884.2 1168.3,854.2 1168.7,864.7 1169.1,854.8 1169.5,884.2 1169.8,869.5 1170.2,884.1 1170.6,858.0 1171.0,870.2 1171.3,865.2 1171.7,858.4 1172.1,856.4 1172.5,869.3 1172.8,848.8 1173.2,875.3 1173.6,846.3 1174.0,874.7 1174.3,849.2 1174.7,881.1 1175.1,854.5 1175.5,873.7 1175.8,859.8 1176.2,861.4 1176.6,876.4 1177.0,875.1 1177.3,873.1 1177.7,848.0 1178.1,868.3 1178.5,863.9 1178.8,869.3 1179.2,873.3 1179.6,836.6 1180.0,850.6 1180.3,842.3 1180.7,850.0 1181.1,841.3 1181.5,875.7 1181.8,887.4 1182.2,862.2 1182.6,873.5 1183.0,885.4 1183.3,848.5 1183.7,846.2 1184.1,863.7 1184.5,881.1 1184.8,828.9 1185.2,852.3 1185.6,870.6 1186.0,829.7 1186.3,840.2 1186.7,826.1 1187.1,850.3 1187.5,861.4 1187.8,863.7 1188.2,852.7 1188.6,860.1 1189.0,859.4 1189.3,877.3 1189.7,873.3 1190.1,841.1 1190.5,854.2 1190.8,843.1 1191.2,827.6 1191.6,842.3 1192.0,847.5 1192.3,833.2 1192.7,848.7 1193.1,836.9 1193.5,839.3 1193.8,877.0 1194.2,870.4 1194.6,861.4 1195.0,873.6 1195.3,864.4 1195.7,847.1 1196.1,859.9 1196.5,855.5 1196.8,834.4 1197.2,865.8 1197.6,866.6 1198.0,824.5 1198.3,839.9 1198.7,850.8 1199.1,872.4 1199.5,855.1 1199.8,836.4 1200.2,838.7 1200.6,881.3 1201.0,847.0 1201.3,853.7 1201.7,844.9 1202.1,863.0 1202.4,862.1 1202.8,872.2 1203.2,851.8 1203.6,850.9 1203.9,830.3 1204.3,839.5 1204.7,849.8 1205.1,871.8 1205.4,850.8 1205.8,839.7 1206.2,832.9 1206.6,848.0 1206.9,839.2 1207.3,824.0 1207.7,826.2 1208.1,845.2 1208.4,820.1 1208.8,832.1 1209.2,840.7 1209.6,817.1 1209.9,824.4 1210.3,838.1 1210.7,784.7 1211.1,806.9 1211.4,779.1 1211.8,831.0 1212.2,816.6 1212.6,815.9 1212.9,813.7 1213.3,829.1 1213.7,843.3 1214.1,828.2 1214.4,812.3 1214.8,831.8 1215.2,822.5 1215.6,841.5 1215.9,853.6 1216.3,830.2 1216.7,832.2 1217.1,816.1 1217.4,833.0 1217.8,844.4 1218.2,844.5 1218.6,791.5 1218.9,796.8 1219.3,793.8 1219.7,752.3 1220.1,749.1 1220.4,695.5 1220.8,675.1 1221.2,699.5 1221.6,728.1 1221.9,778.8 1222.3,794.0 1222.7,798.1 1223.1,837.9 1223.4,817.1 1223.8,832.7 1224.2,837.4 1224.6,829.0 1224.9,854.4 1225.3,838.7 1225.7,830.6 1226.1,816.9 1226.4,792.2 1226.8,801.3 1227.2,831.4 1227.6,783.1 1227.9,801.4 1228.3,793.5 1228.7,811.0 1229.1,796.9 1229.4,807.2 1229.8,819.6 1230.2,813.8 1230.6,865.2 1230.9,833.9 1231.3,832.4 1231.7,833.4 1232.1,839.3 1232.4,860.4 1232.8,821.9 1233.2,829.1 1233.6,835.3 1233.9,845.0 1234.3,839.5 1234.7,858.1 1235.1,808.1 1235.4,805.3 1235.8,833.5 1236.2,802.3 1236.6,786.6 1236.9,817.1 1237.3,760.1 1237.7,781.2 1238.1,783.5 1238.4,810.5 1238.8,784.2 1239.2,820.6 1239.6,813.8 1239.9,822.9 1240.3,795.6 1240.7,839.6 1241.1,825.9 1241.4,828.2 1241.8,829.5 1242.2,855.4 1242.6,851.2 1242.9,818.2 1243.3,797.9 1243.7,793.0 1244.1,764.8 1244.4,775.9 1244.8,770.4 1245.2,764.0 1245.6,753.1 1245.9,753.9 1246.3,780.1 1246.7,768.1 1247.1,764.9 1247.4,801.6 1247.8,790.3 1248.2,780.7 1248.6,759.5 1248.9,735.4 1249.3,728.6 1249.7,698.0 1250.0,657.7 1250.4,638.1 1250.8,601.4 1251.2,572.1 1251.5,595.4 1251.9,666.0 1252.3,733.3 1252.7,713.9 1253.0,749.5 1253.4,767.1 1253.8,781.1 1254.2,806.4 1254.5,794.2 1254.9,834.0 1255.3,834.2 1255.7,816.5 1256.0,844.2 1256.4,820.1 1256.8,844.8 1257.2,830.8 1257.5,832.7 1257.9,857.2 1258.3,824.5 1258.7,844.2 1259.0,836.5 1259.4,871.3 1259.8,872.4 1260.2,850.9 1260.5,832.0 1260.9,841.6 1261.3,840.0 1261.7,869.8 1262.0,828.1 1262.4,838.8 1262.8,842.3 1263.2,851.3 1263.5,822.1 1263.9,842.1 1264.3,824.8 1264.7,826.7 1265.0,819.9 1265.4,820.7 1265.8,838.1 1266.2,835.0 1266.5,807.1 1266.9,849.1 1267.3,852.3 1267.7,847.5 1268.0,850.0 1268.4,852.7 1268.8,839.7 1269.2,847.1 1269.5,847.8 1269.9,850.8 1270.3,868.2 1270.7,887.2 1271.0,855.2 1271.4,877.1 1271.8,858.8 1272.2,871.6 1272.5,863.5 1272.9,876.4 1273.3,870.4 1273.7,882.9 1274.0,856.2 1274.4,863.8 1274.8,858.4 1275.2,886.7 1275.5,883.0 1275.9,862.0 1276.3,866.3 1276.7,860.3 1277.0,852.8 1277.4,879.7 1277.8,890.2 1278.2,871.7 1278.5,893.1 1278.9,872.6 1279.3,880.2 1279.7,875.4 1280.0,861.7 1280.4,858.2 1280.8,882.7 1281.2,870.5 1281.5,858.0 1281.9,873.7 1282.3,882.4 1282.7,874.7 1283.0,876.6 1283.4,895.4 1283.8,888.7 1284.2,876.7 1284.5,888.8 1284.9,891.1 1285.3,891.9 1285.7,893.0 1286.0,898.3 1286.4,891.8 1286.8,882.3 1287.2,893.3 1287.5,891.5 1287.9,861.5 1288.3,886.6 1288.7,869.2 1289.0,867.4 1289.4,869.0 1289.8,896.6 1290.2,900.6 1290.5,870.4 1290.9,895.2 1291.3,867.5 1291.7,896.5 1292.0,905.5 1292.4,865.1 1292.8,886.3 1293.2,887.6 1293.5,871.5 1293.9,903.7 1294.3,868.4 1294.7,877.0 1295.0,898.5 1295.4,892.7 1295.8,887.3 1296.1,880.8 1296.5,866.0 1296.9,901.1 1297.3,909.5 1297.6,897.2 1298.0,868.9 1298.4,869.4 1298.8,875.2 1299.1,875.4 1299.5,881.4 1299.9,891.6 1300.3,882.2 1300.6,856.5 1301.0,880.9 1301.4,851.1 1301.8,873.5 1302.1,877.7 1302.5,889.0 1302.9,892.2 1303.3,873.5 1303.6,870.4 1304.0,870.6 1304.4,857.8 1304.8,865.5 1305.1,876.8 1305.5,862.8 1305.9,839.1 1306.3,889.9 1306.6,855.8 1307.0,857.4 1307.4,856.0 1307.8,876.3 1308.1,871.3 1308.5,862.5 1308.9,848.5 1309.3,872.0 1309.6,892.8 1310.0,892.5 1310.4,857.6 1310.8,881.6 1311.1,904.1 1311.5,873.2 1311.9,870.6 1312.3,864.9 1312.6,884.1 1313.0,873.4 1313.4,885.9 1313.8,905.9 1314.1,856.9 1314.5,887.0 1314.9,896.7 1315.3,874.9 1315.6,869.4 1316.0,870.4 1316.4,886.4 1316.8,900.9 1317.1,871.7 1317.5,866.0 1317.9,879.3 1318.3,867.3 1318.6,875.8 1319.0,895.6 1319.4,887.5 1319.8,904.8 1320.1,880.7 1320.5,900.7 1320.9,903.3 1321.3,904.6 1321.6,895.8 1322.0,895.4 1322.4,874.7 1322.8,906.6 1323.1,901.6 1323.5,889.3 1323.9,874.5 1324.3,866.5 1324.6,876.4 1325.0,889.4 1325.4,876.0 1325.8,878.7 1326.1,925.6 1326.5,901.4 1326.9,872.2 1327.3,898.1 1327.6,877.2 1328.0,893.3 1328.4,888.8 1328.8,884.6 1329.1,886.4 1329.5,887.3 1329.9,891.3 1330.3,878.5 1330.6,881.8 1331.0,883.5 1331.4,873.8 1331.8,875.3 1332.1,843.4 1332.5,846.9 1332.9,832.8 1333.3,853.3 1333.6,820.9 1334.0,815.5 1334.4,829.7 1334.8,809.5 1335.1,798.1 1335.5,827.9 1335.9,807.5 1336.3,808.9 1336.6,800.4 1337.0,836.0 1337.4,827.2 1337.8,821.7 1338.1,835.4 1338.5,820.2 1338.9,847.8 1339.3,840.9 1339.6,840.2 1340.0,836.2 1340.4,813.7 1340.8,812.0 1341.1,781.5 1341.5,763.0 1341.9,811.0 1342.3,794.4 1342.6,782.6 1343.0,732.1 1343.4,773.7 1343.7,754.4 1344.1,782.6 1344.5,787.8 1344.9,801.6 1345.2,786.3 1345.6,811.3 1346.0,791.4 1346.4,794.3 1346.7,841.0 1347.1,836.7 1347.5,834.2 1347.9,833.2 1348.2,862.6 1348.6,861.0 1349.0,862.6 1349.4,850.5 1349.7,866.5 1350.1,852.2 1350.5,879.0 1350.9,873.6 1351.2,882.6 1351.6,875.5 1352.0,869.8 1352.4,888.2 1352.7,902.5 1353.1,903.9 1353.5,870.5 1353.9,890.9 1354.2,845.6 1354.6,864.0 1355.0,870.3 1355.4,894.2 1355.7,877.2 1356.1,875.3 1356.5,883.9 1356.9,868.8 1357.2,885.1 1357.6,901.6 1358.0,914.0 1358.4,902.7 1358.7,878.9 1359.1,868.7 1359.5,909.0 1359.9,908.5 1360.2,881.4 1360.6,890.7 1361.0,883.9 1361.4,871.4 1361.7,866.8 1362.1,874.8 1362.5,880.6 1362.9,905.2 1363.2,911.1 1363.6,880.4 1364.0,870.5 1364.4,909.0 1364.7,881.0 1365.1,894.5 1365.5,895.2 1365.9,899.9 1366.2,895.0 1366.6,879.2 1367.0,916.1 1367.4,883.1 1367.7,889.1 1368.1,869.9 1368.5,881.4 1368.9,881.2 1369.2,883.1 1369.6,875.1 1370.0,889.7 1370.4,886.0 1370.7,877.7 1371.1,891.0 1371.5,879.5 1371.9,870.7 1372.2,897.1 1372.6,862.8 1373.0,878.7 1373.4,859.9 1373.7,830.9 1374.1,800.2 1374.5,795.7 1374.9,815.8 1375.2,807.7 1375.6,780.0 1376.0,778.5 1376.4,757.9 1376.7,751.1 1377.1,741.7 1377.5,750.1 1377.9,735.6 1378.2,758.7 1378.6,715.9 1379.0,713.3 1379.4,712.0 1379.7,690.4 1380.1,668.0 1380.5,705.0 1380.9,683.6 1381.2,643.0 1381.6,640.2 1382.0,632.4 1382.4,642.5 1382.7,643.1 1383.1,624.1 1383.5,677.7 1383.9,661.1 1384.2,704.8 1384.6,689.6 1385.0,721.9 1385.4,739.2 1385.7,752.9 1386.1,764.1 1386.5,805.0 1386.9,821.0 1387.2,811.0 1387.6,843.7 1388.0,859.7 1388.4,856.1 1388.7,874.5 1389.1,888.3 1389.5,884.1 1389.8,873.9 1390.2,910.2 1390.6,890.8 1391.0,891.1 1391.3,873.1 1391.7,897.3 1392.1,878.0 1392.5,888.9 1392.8,884.9 1393.2,863.4 1393.6,903.3 1394.0,870.9 1394.3,882.2 1394.7,899.6 1395.1,861.0 1395.5,893.8 1395.8,879.1 1396.2,911.9 1396.6,894.4 1397.0,886.3 1397.3,861.7 1397.7,883.5 1398.1,889.7 1398.5,913.8 1398.8,900.3 1399.2,895.7 1399.6,868.5 1400.0,895.1 1400.3,904.9 1400.7,892.7 1401.1,881.4 1401.5,909.5 1401.8,885.3 1402.2,891.2 1402.6,896.4 1403.0,891.1 1403.3,908.9 1403.7,913.2 1404.1,895.9 1404.5,924.6 1404.8,910.0 1405.2,897.2 1405.6,890.6 1406.0,912.1 1406.3,899.6 1406.7,874.5 1407.1,880.9 1407.5,890.5 1407.8,900.7 1408.2,889.2 1408.6,895.5 1409.0,892.7 1409.3,899.3 1409.7,896.2 1410.1,919.4 1410.5,912.1 1410.8,911.3 1411.2,883.7 1411.6,889.3 1412.0,924.3 1412.3,884.1 1412.7,922.6 1413.1,883.5 1413.5,893.7 1413.8,905.2 1414.2,911.0 1414.6,882.2 1415.0,917.3 1415.3,926.2 1415.7,909.8 1416.1,894.9 1416.5,898.4 1416.8,897.3 1417.2,928.4 1417.6,883.8 1418.0,892.0 1418.3,925.8 1418.7,880.4 1419.1,899.3 1419.5,890.8 1419.8,898.0 1420.2,885.9 1420.6,924.2 1421.0,877.9 1421.3,904.8 1421.7,917.4 1422.1,905.7 1422.5,906.8 1422.8,874.7 1423.2,902.6 1423.6,928.6 1424.0,892.9 1424.3,892.9 1424.7,892.1 1425.1,922.8 1425.5,888.6 1425.8,882.3 1426.2,923.3 1426.6,909.3 1427.0,921.6 1427.3,895.3 1427.7,914.3 1428.1,879.3 1428.5,911.7 1428.8,897.8 1429.2,898.7 1429.6,905.2 1430.0,924.3 1430.3,884.9 1430.7,937.0 1431.1,917.3 1431.5,916.3 1431.8,907.9 1432.2,905.8 1432.6,926.5 1433.0,903.1 1433.3,895.3 1433.7,899.5 1434.1,894.8 1434.5,916.2 1434.8,925.3 1435.2,911.5 1435.6,901.5 1436.0,909.1 1436.3,885.2 1436.7,922.1 1437.1,888.9 1437.4,883.7 1437.8,886.9 1438.2,885.9 1438.6,919.5 1438.9,867.8 1439.3,898.2 1439.7,892.6 1440.1,879.0 1440.4,905.3 1440.8,902.2 1441.2,923.4 1441.6,899.8 1441.9,922.9 1442.3,915.7 1442.7,907.4 1443.1,881.5 1443.4,913.4 1443.8,894.6 1444.2,912.0 1444.6,918.9 1444.9,886.9 1445.3,932.8 1445.7,879.7 1446.1,916.7 1446.4,919.3 1446.8,907.5 1447.2,892.9 1447.6,911.6 1447.9,918.1 1448.3,894.2 1448.7,914.9 1449.1,910.5 1449.4,917.8 1449.8,935.5 1450.2,911.1 1450.6,904.5 1450.9,891.8 1451.3,917.1 1451.7,921.2 1452.1,899.9 1452.4,915.0 1452.8,886.7 1453.2,894.3 1453.6,930.0 1453.9,918.8 1454.3,889.8 1454.7,900.0 1455.1,882.3 1455.4,887.3 1455.8,889.7 1456.2,913.7 1456.6,896.6 1456.9,915.8 1457.3,932.8 1457.7,924.3 1458.1,908.4 1458.4,890.1 1458.8,907.6 1459.2,914.6 1459.6,888.9 1459.9,914.1 1460.3,912.3 1460.7,905.7 1461.1,915.7 1461.4,926.8 1461.8,900.5 1462.2,898.2 1462.6,894.7 1462.9,917.9 1463.3,882.0 1463.7,889.1 1464.1,922.0 1464.4,918.5 1464.8,903.8 1465.2,912.1 1465.6,914.9 1465.9,887.6 1466.3,913.8 1466.7,883.8 1467.1,894.1 1467.4,855.3 1467.8,863.6 1468.2,878.0 1468.6,841.1 1468.9,878.3 1469.3,871.8 1469.7,907.2 1470.1,890.2 1470.4,884.1 1470.8,890.6 1471.2,904.6 1471.6,926.4 1471.9,907.1 1472.3,897.2 1472.7,931.0 1473.1,944.8 1473.4,926.4 1473.8,898.6 1474.2,943.5 1474.6,937.3 1474.9,931.6 1475.3,893.2 1475.7,930.3 1476.1,909.6 1476.4,900.6 1476.8,924.1 1477.2,904.4 1477.6,939.3 1477.9,912.9 1478.3,931.2 1478.7,954.4 1479.1,915.9 1479.4,927.7 1479.8,926.7 1480.2,903.3 1480.6,930.9 1480.9,945.4 1481.3,923.1 1481.7,924.5 1482.1,940.9 1482.4,934.8 1482.8,921.6 1483.2,929.9 1483.5,905.6 1483.9,901.8 1484.3,914.2 1484.7,917.3 1485.0,948.5 1485.4,945.5 1485.8,917.8 1486.2,924.0 1486.5,946.1 1486.9,931.0 1487.3,920.4 1487.7,919.4 1488.0,947.8 1488.4,948.3 1488.8,926.7 1489.2,944.6 1489.5,942.1 1489.9,917.8 1490.3,937.0 1490.7,943.8 1491.0,918.1 1491.4,928.5 1491.8,909.9 1492.2,931.2 1492.5,917.3 1492.9,939.3 1493.3,916.5 1493.7,938.7 1494.0,944.4 1494.4,922.1 1494.8,943.4 1495.2,934.9 1495.5,925.1 1495.9,934.0 1496.3,943.9 1496.7,915.2 1497.0,942.3 1497.4,951.7 1497.8,914.6 1498.2,947.1 1498.5,952.1 1498.9,920.4 1499.3,939.8 1499.7,907.7 1500.0,922.4 1500.4,910.3 1500.8,934.3 1501.2,936.6 1501.5,914.8 1501.9,917.5 1502.3,945.6 1502.7,939.5 1503.0,936.3 1503.4,944.5 1503.8,936.4 1504.2,940.7 1504.5,923.4 1504.9,947.0 1505.3,951.1 1505.7,946.0 1506.0,936.7 1506.4,944.6 1506.8,911.1 1507.2,932.7 1507.5,954.1 1507.9,927.5 1508.3,911.5 1508.7,915.9 1509.0,918.6 1509.4,947.5 1509.8,936.2 1510.2,935.6 1510.5,913.8 1510.9,911.3 1511.3,937.8 1511.7,920.6 1512.0,932.4 1512.4,920.7 1512.8,948.3 1513.2,935.4 1513.5,937.3 1513.9,914.0 1514.3,933.1 1514.7,921.0 1515.0,916.0 1515.4,928.7 1515.8,936.0 1516.2,922.9 1516.5,939.9 1516.9,924.9 1517.3,947.9 1517.7,917.3 1518.0,918.1 1518.4,945.6 1518.8,918.3 1519.2,921.3 1519.5,943.8 1519.9,939.3 1520.3,928.7 1520.7,928.9 1521.0,911.7 1521.4,923.6 1521.8,938.5 1522.2,922.1 1522.5,933.2 1522.9,950.2 1523.3,947.1 1523.7,936.5 1524.0,953.4 1524.4,943.2 1524.8,927.3 1525.2,919.7 1525.5,935.1 1525.9,935.6 1526.3,915.1 1526.7,923.6 1527.0,916.3 1527.4,955.8 1527.8,925.2 1528.2,943.5 1528.5,953.6 1528.9,930.9 1529.3,933.2 1529.7,924.9 1530.0,938.8 1530.4,915.8 1530.8,917.6 1531.1,916.4 1531.5,940.5 1531.9,943.1 1532.3,958.0 1532.6,927.0 1533.0,942.2 1533.4,939.4 1533.8,931.9 1534.1,947.6 1534.5,937.1 1534.9,944.8 1535.3,919.9 1535.6,936.6 1536.0,921.9 1536.4,926.2 1536.8,933.8 1537.1,931.3 1537.5,931.7 1537.9,927.8 1538.3,921.2 1538.6,923.2 1539.0,947.6 1539.4,922.8 1539.8,953.1 1540.1,950.2 1540.5,926.6 1540.9,934.8 1541.3,938.7 1541.6,937.5 1542.0,930.2 1542.4,927.7 1542.8,919.8 1543.1,940.2 1543.5,946.6 1543.9,932.6 1544.3,942.0 1544.6,945.4 1545.0,929.8 1545.4,954.4 1545.8,922.4 1546.1,931.7 1546.5,931.1 1546.9,943.7 1547.3,932.8 1547.6,942.2 1548.0,924.7 1548.4,934.8 1548.8,933.6 1549.1,920.5 1549.5,929.4 1549.9,940.8 1550.3,939.7 1550.6,929.6 1551.0,916.3 1551.4,943.8 1551.8,930.2 1552.1,922.8 1552.5,930.5 1552.9,923.3 1553.3,942.1 1553.6,925.1 1554.0,936.3 1554.4,916.1 1554.8,924.2 1555.1,937.3 1555.5,945.4 1555.9,931.9 1556.3,936.6 1556.6,918.4 1557.0,920.9 1557.4,926.1 1557.8,927.1 1558.1,921.0 1558.5,933.2 1558.9,895.7 1559.3,934.9 1559.6,899.5 1560.0,908.4 1560.4,912.7 1560.8,897.5 1561.1,920.2 1561.5,896.5 1561.9,894.1 1562.3,906.1 1562.6,910.1 1563.0,914.6 1563.4,918.9 1563.8,905.2 1564.1,904.9 1564.5,926.4 1564.9,928.4 1565.3,920.3 1565.6,912.3 1566.0,922.1 1566.4,908.7 1566.8,924.0 1567.1,902.4 1567.5,910.9 1567.9,921.6 1568.3,911.5 1568.6,940.7 1569.0,918.7 1569.4,935.4 1569.8,911.0 1570.1,939.4 1570.5,919.5 1570.9,935.1 1571.3,929.0 1571.6,920.2 1572.0,915.8 1572.4,915.2 1572.8,937.9 1573.1,921.2 1573.5,948.0 1573.9,939.2 1574.3,928.3 1574.6,907.5 1575.0,898.4 1575.4,907.8 1575.8,894.8 1576.1,896.4 1576.5,885.1 1576.9,902.8 1577.2,893.3 1577.6,914.4 1578.0,900.7 1578.4,903.9 1578.7,915.3 1579.1,927.0 1579.5,917.2 1579.9,909.3 1580.2,930.5 1580.6,940.1 1581.0,921.9 1581.4,916.0 1581.7,925.3 1582.1,958.0 1582.5,953.7 1582.9,930.0 1583.2,922.7 1583.6,915.7 1584.0,924.9 1584.4,931.0 1584.7,927.3 1585.1,945.3 1585.5,947.7 1585.9,924.2 1586.2,929.8 1586.6,917.3 1587.0,919.5 1587.4,897.4 1587.7,905.0 1588.1,890.8 1588.5,871.9 1588.9,876.8 1589.2,832.9 1589.6,838.9 1590.0,830.1 1590.4,893.1 1590.7,875.4 1591.1,873.6 1591.5,888.9 1591.9,912.3 1592.2,930.9 1592.6,904.5 1593.0,927.1 1593.4,928.7 1593.7,930.0 1594.1,904.5 1594.5,895.3 1594.9,891.0 1595.2,878.2 1595.6,894.9 1596.0,867.1 1596.4,877.6 1596.7,884.8 1597.1,892.3 1597.5,917.1 1597.9,926.6 1598.2,911.4 1598.6,924.6 1599.0,937.4 1599.4,938.4 1599.7,928.6 1600.1,929.3 1600.5,931.3 1600.9,944.5 1601.2,921.7 1601.6,940.7 1602.0,945.6 1602.4,931.0 1602.7,922.9 1603.1,930.2 1603.5,942.2 1603.9,955.6 1604.2,929.4 1604.6,921.8 1605.0,950.5 1605.4,931.4 1605.7,960.3 1606.1,942.5 1606.5,932.3 1606.9,943.3 1607.2,930.3 1607.6,928.3 1608.0,951.4 1608.4,935.0 1608.7,942.1 1609.1,951.3 1609.5,955.3 1609.9,939.7 1610.2,918.2 1610.6,928.2 1611.0,953.0 1611.4,952.0 1611.7,924.4 1612.1,943.9 1612.5,931.3 1612.9,939.0 1613.2,925.0 1613.6,935.2 1614.0,934.2 1614.4,948.1 1614.7,928.6 1615.1,949.2 1615.5,950.4 1615.9,940.9 1616.2,931.3 1616.6,943.9 1617.0,948.2 1617.4,963.8 1617.7,935.6 1618.1,941.9 1618.5,943.2 1618.9,935.1 1619.2,935.3 1619.6,956.7 1620.0,944.6 1620.4,948.9 1620.7,950.3 1621.1,927.3 1621.5,953.4 1621.9,942.2 1622.2,933.2 1622.6,948.6 1623.0,967.4 1623.4,927.9 1623.7,952.5 1624.1,941.2 1624.5,918.5 1624.8,916.5 1625.2,925.0 1625.6,938.2 1626.0,924.3 1626.3,928.6 1626.7,949.6 1627.1,920.6 1627.5,954.5 1627.8,937.9 1628.2,953.3 1628.6,950.5 1629.0,956.2 1629.3,922.0 1629.7,955.2 1630.1,919.8 1630.5,946.5 1630.8,952.9 1631.2,945.6 1631.6,926.4 1632.0,948.3 1632.3,926.3 1632.7,948.3 1633.1,922.5 1633.5,935.4 1633.8,947.8 1634.2,939.1 1634.6,953.7 1635.0,942.7 1635.3,962.6 1635.7,932.5 1636.1,944.3 1636.5,946.3 1636.8,956.0 1637.2,923.0 1637.6,957.3 1638.0,932.7 1638.3,959.2 1638.7,945.0 1639.1,948.9 1639.5,933.6 1639.8,950.2 1640.2,945.6 1640.6,936.7 1641.0,948.0 1641.3,949.6 1641.7,937.7 1642.1,951.3 1642.5,938.4 1642.8,954.3 1643.2,954.1 1643.6,949.6 1644.0,946.8 1644.3,939.6 1644.7,943.5 1645.1,947.0 1645.5,947.9 1645.8,929.6 1646.2,949.0 1646.6,933.8 1647.0,927.6 1647.3,946.6 1647.7,950.3 1648.1,932.6 1648.5,952.9 1648.8,956.8 1649.2,960.3 1649.6,935.2 1650.0,924.5 1650.3,927.8 1650.7,932.6 1651.1,946.4 1651.5,927.9 1651.8,939.1 1652.2,917.2 1652.6,946.5 1653.0,934.5 1653.3,933.6 1653.7,955.8 1654.1,940.0 1654.5,952.4 1654.8,923.9 1655.2,930.1 1655.6,936.9 1656.0,957.2 1656.3,956.4 1656.7,944.3 1657.1,949.8 1657.5,951.2 1657.8,950.0 1658.2,933.3 1658.6,932.3 1659.0,969.0 1659.3,945.2 1659.7,945.6 1660.1,943.5 1660.5,942.7 1660.8,943.7 1661.2,934.3 1661.6,942.6 1662.0,954.6 1662.3,936.5 1662.7,928.4 1663.1,933.9 1663.5,951.3 1663.8,946.9 1664.2,946.0 1664.6,915.5 1665.0,934.9 1665.3,928.3 1665.7,940.0 1666.1,918.4 1666.5,947.5 1666.8,939.1 1667.2,928.9 1667.6,923.6 1668.0,910.3 1668.3,928.7 1668.7,944.9 1669.1,908.1 1669.5,927.7 1669.8,941.6 1670.2,943.4 1670.6,918.1 1670.9,924.4 1671.3,934.1 1671.7,939.6 1672.1,936.4 1672.4,919.5 1672.8,936.6 1673.2,932.8 1673.6,929.9 1673.9,924.8 1674.3,927.4 1674.7,936.9 1675.1,918.8 1675.4,901.1 1675.8,903.4 1676.2,938.1 1676.6,943.1 1676.9,940.2 1677.3,934.3 1677.7,966.5 1678.1,948.7 1678.4,946.8 1678.8,925.7 1679.2,963.0 1679.6,962.1 1679.9,941.7 1680.3,950.7 1680.7,951.9 1681.1,963.9 1681.4,955.1 1681.8,961.2 1682.2,958.6 1682.6,948.2 1682.9,958.1 1683.3,941.4 1683.7,941.3 1684.1,947.5 1684.4,968.4 1684.8,936.1 1685.2,958.0 1685.6,963.1 1685.9,951.8 1686.3,951.0 1686.7,954.0 1687.1,955.8 1687.4,946.3 1687.8,950.9 1688.2,967.7 1688.6,952.5 1688.9,959.8 1689.3,960.7 1689.7,948.7 1690.1,947.3 1690.4,951.4 1690.8,935.0 1691.2,939.5 1691.6,948.9 1691.9,960.5 1692.3,932.4 1692.7,958.4 1693.1,938.9 1693.4,958.0 1693.8,954.5 1694.2,938.0 1694.6,946.1 1694.9,938.3 1695.3,951.3 1695.7,969.2 1696.1,946.5 1696.4,941.0 1696.8,979.3 1697.2,950.6 1697.6,943.4 1697.9,951.5 1698.3,965.6 1698.7,966.4 1699.1,953.9 1699.4,964.4 1699.8,951.9 1700.2,939.7 1700.6,957.8 1700.9,945.5 1701.3,974.0 1701.7,961.6 1702.1,935.1 1702.4,963.5 1702.8,945.1 1703.2,950.0 1703.6,939.5 1703.9,953.0 1704.3,959.2 1704.7,967.7 1705.1,955.8 1705.4,967.0 1705.8,961.6 1706.2,956.4 1706.6,958.8 1706.9,963.9 1707.3,948.6 1707.7,954.1 1708.1,958.8 1708.4,947.5 1708.8,974.7 1709.2,933.5 1709.6,953.1 1709.9,935.3 1710.3,974.5 1710.7,973.7 1711.1,963.4 1711.4,937.5 1711.8,944.0 1712.2,943.8 1712.6,941.1 1712.9,968.1 1713.3,962.0 1713.7,951.9 1714.1,953.9 1714.4,947.9 1714.8,970.3 1715.2,931.1 1715.6,960.2 1715.9,950.6 1716.3,941.6 1716.7,962.9 1717.1,937.5 1717.4,946.7 1717.8,950.5 1718.2,963.9 1718.5,954.4 1718.9,931.1 1719.3,955.0 1719.7,957.0 1720.0,943.6 1720.4,939.4 1720.8,974.1 1721.2,929.0 1721.5,971.2 1721.9,948.1 1722.3,954.5 1722.7,965.6 1723.0,953.6 1723.4,947.6 1723.8,957.9 1724.2,945.5 1724.5,931.6 1724.9,965.9 1725.3,956.0 1725.7,953.0 1726.0,955.5 1726.4,968.0 1726.8,953.7 1727.2,949.4 1727.5,930.0 1727.9,932.2 1728.3,938.1 1728.7,949.1 1729.0,930.6 1729.4,941.2 1729.8,969.6 1730.2,943.7 1730.5,963.3 1730.9,948.2 1731.3,949.3 1731.7,939.1 1732.0,956.0 1732.4,926.5 1732.8,976.7 1733.2,975.0 1733.5,962.1 1733.9,959.4 1734.3,951.3 1734.7,964.5 1735.0,966.8 1735.4,956.3 1735.8,959.9 1736.2,953.4 1736.5,947.2 1736.9,938.5 1737.3,947.5 1737.7,958.8 1738.0,955.9 1738.4,956.4 1738.8,968.8 1739.2,962.4 1739.5,968.8 1739.9,962.4 1740.3,953.8 1740.7,956.3 1741.0,939.9 1741.4,954.1 1741.8,973.5 1742.2,955.7 1742.5,972.4 1742.9,963.0 1743.3,953.1 1743.7,969.0 1744.0,972.5 1744.4,940.0 1744.8,946.2 1745.2,949.5 1745.5,952.0 1745.9,943.9 1746.3,964.7 1746.7,958.2 1747.0,961.4 1747.4,960.9 1747.8,941.5 1748.2,966.2 1748.5,969.0 1748.9,968.9 1749.3,950.3 1749.7,945.8 1750.0,947.8 1750.4,962.3 1750.8,952.9 1751.2,937.5 1751.5,960.9 1751.9,951.6 1752.3,949.3 1752.7,954.6 1753.0,965.9 1753.4,954.5 1753.8,964.1 1754.2,959.4 1754.5,946.0 1754.9,940.7 1755.3,963.0 1755.7,968.4 1756.0,958.2 1756.4,930.8 1756.8,966.8 1757.2,955.9 1757.5,961.5 1757.9,958.5 1758.3,974.2 1758.7,949.7 1759.0,955.2 1759.4,944.8 1759.8,964.2 1760.2,963.2 1760.5,964.4 1760.9,955.2 1761.3,951.5 1761.7,964.9 1762.0,966.9 1762.4,959.2 1762.8,947.5 1763.2,953.8 1763.5,952.1 1763.9,952.9 1764.3,946.8 1764.6,952.4 1765.0,973.5 1765.4,970.6 1765.8,967.1 1766.1,949.9 1766.5,971.4 1766.9,951.0 1767.3,973.8 1767.6,940.6 1768.0,964.3 1768.4,941.9 1768.8,943.6 1769.1,964.7 1769.5,955.3 1769.9,953.5 1770.3,960.8 1770.6,966.2 1771.0,985.7 1771.4,952.5 1771.8,982.2 1772.1,959.1 1772.5,969.5 1772.9,946.7 1773.3,954.8 1773.6,940.8 1774.0,944.1 1774.4,950.0 1774.8,950.3 1775.1,960.9 1775.5,971.6 1775.9,952.7 1776.3,921.4 1776.6,942.7 1777.0,955.1 1777.4,941.3 1777.8,970.8 1778.1,965.6 1778.5,951.5 1778.9,947.9 1779.3,961.2 1779.6,971.5 1780.0,964.4 1780.4,950.1 1780.8,960.2 1781.1,955.6 1781.5,945.2 1781.9,964.5 1782.3,934.0 1782.6,966.9 1783.0,947.2 1783.4,964.1 1783.8,969.0 1784.1,955.3 1784.5,965.9 1784.9,952.4 1785.3,971.1 1785.6,955.1 1786.0,963.8 1786.4,963.7 1786.8,961.2 1787.1,929.7 1787.5,961.3 1787.9,937.3 1788.3,960.2 1788.6,979.0 1789.0,967.8 1789.4,934.8 1789.8,962.2 1790.1,971.5 1790.5,946.2 1790.9,949.7 1791.3,941.0 1791.6,959.7 1792.0,960.5 1792.4,964.3 1792.8,960.7 1793.1,945.1 1793.5,942.1 1793.9,960.2 1794.3,965.7 1794.6,957.9 1795.0,964.8 1795.4,943.5 1795.8,948.7 1796.1,957.6 1796.5,938.7 1796.9,930.6 1797.3,976.8 1797.6,942.3 1798.0,945.6 1798.4,951.7 1798.8,958.9 1799.1,967.5 1799.5,963.2 1799.9,935.9 1800.3,951.2 1800.6,976.9 1801.0,956.3 1801.4,965.5 1801.8,938.5 1802.1,953.0 1802.5,932.0 1802.9,955.2 1803.3,988.5 1803.6,961.8 1804.0,949.2 1804.4,940.8 1804.8,965.9 1805.1,964.6 1805.5,952.0 1805.9,965.4 1806.3,972.7 1806.6,966.0 1807.0,953.2 1807.4,954.7 1807.8,935.8 1808.1,929.9 1808.5,962.0 1808.9,957.6 1809.3,942.5 1809.6,963.6 1810.0,950.8 1810.4,960.8 1810.8,963.6 1811.1,962.3 1811.5,945.7"/></g>
<g fill="#000" shape-rendering="crispEdges">
<rect x="310" y="28" width="5" height="1120"/><rect x="1808" y="28" width="6" height="1120"/><rect x="310" y="28" width="1504" height="6"/><rect x="310" y="1143" width="1504" height="5"/>
<rect x="404" y="1132" width="5" height="13"/><rect x="498" y="1121" width="5" height="24"/><rect x="591" y="1132" width="5" height="13"/><rect x="685" y="1121" width="5" height="24"/><rect x="779" y="1132" width="5" height="13"/><rect x="872" y="1121" width="5" height="24"/><rect x="966" y="1132" width="5" height="13"/><rect x="1059" y="1121" width="5" height="24"/><rect x="1153" y="1132" width="5" height="13"/><rect x="1247" y="1121" width="5" height="24"/><rect x="1340" y="1132" width="5" height="13"/><rect x="1434" y="1121" width="5" height="24"/><rect x="1527" y="1132" width="5" height="13"/><rect x="1621" y="1121" width="5" height="24"/><rect x="1714" y="1132" width="5" height="13"/>
<rect x="312" y="121" width="26" height="6"/><rect x="312" y="214" width="15" height="6"/><rect x="312" y="307" width="26" height="6"/><rect x="312" y="399" width="15" height="6"/><rect x="312" y="492" width="26" height="6"/><rect x="312" y="585" width="15" height="6"/><rect x="312" y="678" width="26" height="6"/><rect x="312" y="771" width="15" height="6"/><rect x="312" y="864" width="26" height="6"/><rect x="312" y="956" width="15" height="6"/><rect x="312" y="1049" width="26" height="6"/>
</g>
<text class="tk" text-anchor="middle" x="312.6" y="1213.8">10</text>
<text class="tk" text-anchor="middle" x="500.0" y="1213.8">20</text>
<text class="tk" text-anchor="middle" x="687.4" y="1213.8">30</text>
<text class="tk" text-anchor="middle" x="874.8" y="1213.8">40</text>
<text class="tk" text-anchor="middle" x="1062.2" y="1213.8">50</text>
<text class="tk" text-anchor="middle" x="1249.6" y="1213.8">60</text>
<text class="tk" text-anchor="middle" x="1437.0" y="1213.8">70</text>
<text class="tk" text-anchor="middle" x="1624.4" y="1213.8">80</text>
<text class="tk" text-anchor="middle" x="1811.8" y="1213.8">90</text>
<text class="tk" text-anchor="end" x="288.5" y="1067.5">500</text>
<text class="tk" text-anchor="end" x="288.5" y="881.8">1000</text>
<text class="tk" text-anchor="end" x="288.5" y="696.1">1500</text>
<text class="tk" text-anchor="end" x="288.5" y="510.5">2000</text>
<text class="tk" text-anchor="end" x="288.5" y="324.8">2500</text>
<text class="tk" text-anchor="end" x="288.5" y="139.2">3000</text>
<text class="ax" x="992.7" y="1320.8"><tspan font-style="italic">2</tspan><tspan font-style="italic" dx="-3">θ</tspan><tspan dx="-1.9">(</tspan><tspan dx="-1.8">°</tspan><tspan dx="-3.2">)</tspan></text>
<text class="ax" transform="translate(75.2,853.5) rotate(-90)" letter-spacing="-1.1">Intensity /Counts</text>
<text class="lg" x="1061" y="80.8">1-Metallic iron (Fe)</text>
<text class="lg" x="1061" y="136.0">2-Alumina (Al<tspan class="sb" dy="17.4">2</tspan><tspan dy="-17.4" dx="0.9">O</tspan><tspan class="sb" dy="17.4">3</tspan><tspan dy="-17.4" dx="0.9">)</tspan></text>
<text class="lg" x="1061" y="205.5">3-Hercynite (FeAl<tspan class="sb" dy="17.4">2</tspan><tspan dy="-17.4" dx="0.9">O</tspan><tspan class="sb" dy="17.4">4</tspan><tspan dy="-17.4" dx="0.9">)</tspan></text>
<text class="lg" x="1061" y="275.3">4-Fayalite (Fe<tspan class="sb" dy="17.4">2</tspan><tspan dy="-17.4" dx="0.9">SiO</tspan><tspan class="sb" dy="17.4">4</tspan><tspan dy="-17.4" dx="0.9">)</tspan></text>
<text class="lg" x="1061" y="344.5">5-Manganese oxide (Mn<tspan class="sb" dy="17.4">3</tspan><tspan dy="-17.4" dx="0.9">O</tspan><tspan class="sb" dy="17.4">4</tspan><tspan dy="-17.4" dx="0.9">)</tspan></text>
<text class="lg" x="1061" y="414.2">6-Gehlenite (Ca<tspan class="sb" dy="17.4">2</tspan><tspan dy="-17.4" dx="0.9">Al</tspan><tspan class="sb" dy="17.4">2</tspan><tspan dy="-17.4" dx="0.9">SiO</tspan><tspan class="sb" dy="17.4">7</tspan><tspan dy="-17.4" dx="0.9">)</tspan></text>
<text class="lg" x="1061" y="484.5">7-Calcium hexaluminate (CaAl<tspan class="sb" dy="17.4">12</tspan><tspan dy="-17.4" dx="0.9">O</tspan><tspan class="sb" dy="17.4">19</tspan><tspan dy="-17.4" dx="0.9">)</tspan></text>
<text class="pk" x="428.5" y="454.9">7</text>
<text class="pk" x="503.7" y="509.2">7</text>
<text class="pk" x="708.0" y="373.2">2</text>
<text class="pk" x="707.0" y="436.0">3</text>
<text class="pk" x="726.5" y="298.7">7</text>
<text class="pk" x="761.5" y="143.0">6</text>
<text class="pk" x="806.0" y="123.9">4</text>
<text class="pk" x="806.3" y="186.2">5</text>
<text class="pk" x="964.5" y="105.4">1</text>
<text class="pk" x="817.2" y="511.9">3</text>
<text class="pk" x="863.5" y="557.8">6</text>
<text class="pk" x="862.5" y="619.8">7</text>
<text class="pk" x="927.7" y="415.3">2</text>
<text class="pk" x="1128.0" y="791.1">1</text>
<text class="pk" x="1204.0" y="760.5">5</text>
<text class="pk" x="1219.0" y="666.7">5</text>
<text class="pk" x="1251.3" y="554.5">7</text>
<text class="pk" x="1343.0" y="723.3">1</text>
<text class="pk" x="1379.3" y="546.5">2</text>
<text class="pk" x="1379.3" y="607.6">4</text>
<text class="pk" x="1468.0" y="821.5">6</text>
<text class="pk" x="1592.5" y="815.9">5</text>
<text class="pk" x="1668.0" y="872.5">1</text>
</svg></body></html>
